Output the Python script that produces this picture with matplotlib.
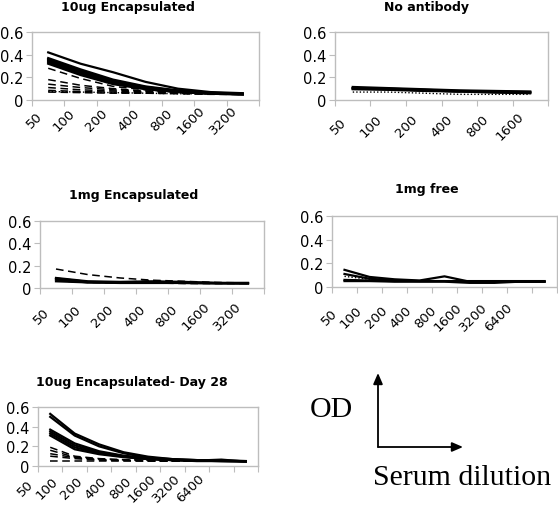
import numpy as np
import matplotlib
matplotlib.use("Agg")
import matplotlib.pyplot as plt
import matplotlib.transforms as mtransforms
from matplotlib.patches import FancyArrowPatch

nan = np.nan

# ---- data ----
cats_a = ['50', '100', '200', '400', '800', '1600', '3200']
cats_b = ['50', '100', '200', '400', '800', '1600']
cats_c = ['50', '100', '200', '400', '800', '1600', '3200', '6400', '']

enc10_solid = [
    [0.42, 0.32, 0.245, 0.16, 0.10, 0.07, 0.06],
    [0.37, 0.27, 0.18, 0.12, 0.085, 0.065, 0.055],
    [0.36, 0.26, 0.17, 0.115, 0.08, 0.06, 0.055],
    [0.35, 0.25, 0.165, 0.11, 0.08, 0.06, 0.05],
    [0.34, 0.24, 0.16, 0.105, 0.075, 0.06, 0.05],
    [0.33, 0.23, 0.15, 0.10, 0.07, 0.055, 0.05],
    [0.32, 0.22, 0.14, 0.095, 0.07, 0.055, 0.05],
]
enc10_dashed = [
    [0.28, 0.19, 0.12, 0.09, 0.07, 0.06, 0.055],
    [0.18, 0.13, 0.10, 0.08, 0.065, 0.06, 0.055],
    [0.14, 0.11, 0.09, 0.075, 0.065, 0.06, 0.055],
    [0.11, 0.09, 0.08, 0.07, 0.06, 0.055, 0.05],
    [0.085, 0.075, 0.07, 0.065, 0.06, 0.055, 0.05],
    [0.07, 0.065, 0.06, 0.06, 0.055, 0.05, 0.05],
]
enc10_dotted = [
    [0.075, 0.07, 0.065, 0.06, 0.055, 0.055, 0.05],
]

noab_solid = [
    [0.115, 0.105, 0.095, 0.085, 0.08, 0.075],
    [0.105, 0.10, 0.09, 0.08, 0.075, 0.07],
    [0.10, 0.095, 0.085, 0.075, 0.07, 0.065],
    [0.095, 0.09, 0.08, 0.075, 0.065, 0.06],
    [0.105, 0.095, 0.085, 0.075, nan, nan],
]
noab_dotted = [
    [0.07, 0.07, 0.06, 0.05, 0.05, 0.05],
]

enc1mg_solid = [
    [0.09, 0.06, 0.055, 0.06, 0.055, 0.045, 0.045],
    [0.085, 0.055, 0.05, 0.05, 0.05, 0.045, 0.045],
    [0.075, 0.05, 0.05, 0.05, 0.045, 0.045, 0.04],
    [0.06, 0.05, 0.045, 0.045, 0.045, 0.04, 0.04],
]
enc1mg_dashed = [
    [0.17, 0.12, 0.09, 0.07, 0.06, 0.05, 0.045],
    [0.08, 0.055, 0.05, 0.065, 0.05, 0.045, 0.045],
    [0.065, 0.05, 0.045, 0.045, 0.04, 0.04, 0.04],
]

free1mg_solid = [
    [0.145, 0.085, 0.065, 0.055, 0.09, 0.045, 0.045, 0.045, 0.045],
    [0.11, 0.07, 0.055, 0.05, 0.05, 0.045, 0.045, 0.045, 0.045],
    [0.06, 0.055, 0.05, 0.05, 0.05, 0.05, 0.05, 0.05, 0.05],
    [0.05, 0.05, 0.045, 0.045, 0.045, 0.035, 0.035, 0.045, 0.045],
]
free1mg_dotted = [
    [0.09, 0.065, 0.055, 0.05, 0.05, 0.05, 0.045, 0.045, 0.045],
]

day28_solid = [
    [0.53, 0.33, 0.22, 0.14, 0.095, 0.07, 0.06, 0.055, 0.05],
    [0.50, 0.31, 0.20, 0.13, 0.085, 0.07, 0.06, 0.055, 0.05],
    [0.37, 0.23, 0.15, 0.105, 0.08, 0.065, 0.055, 0.05, 0.05],
    [0.35, 0.21, 0.14, 0.10, 0.075, 0.06, 0.055, 0.05, 0.045],
    [0.33, 0.19, 0.13, 0.095, 0.07, 0.06, 0.055, 0.065, 0.045],
    [0.31, 0.17, 0.12, 0.09, 0.07, 0.06, 0.05, 0.05, 0.045],
]
day28_dashed = [
    [0.19, 0.10, 0.075, 0.065, 0.06, 0.055, 0.05, 0.05, 0.05],
    [0.16, 0.09, 0.07, 0.06, 0.055, 0.05, 0.05, 0.05, 0.05],
    [0.125, 0.085, 0.065, 0.06, 0.055, 0.05, 0.05, 0.05, 0.05],
    [0.10, 0.075, 0.06, 0.055, 0.05, 0.05, 0.05, 0.05, 0.05],
    [0.05, 0.05, 0.05, 0.05, 0.05, 0.05, 0.05, 0.05, 0.05],
]

W, H = 558, 506
fig = plt.figure(figsize=(W / 100, H / 100), dpi=100)
GRAY = '#bdbdbd'
panels = []


def px_axes(x0, y0, x1, y1):
    return fig.add_axes([x0 / W, 1 - y1 / H, (x1 - x0) / W, (y1 - y0) / H])


def panel(box, title, tpos, cats, solid, dashed=(), dotted=(), lab=(-4, 120)):
    ax = px_axes(*box)
    n = len(cats)
    x = np.arange(1, n + 1)
    for s in solid:
        ax.plot(x, s, color='black', lw=1.6, ls='-')
    for s in dashed:
        ax.plot(x, s, color='black', lw=1.1, ls=(0, (5, 3)))
    for s in dotted:
        ax.plot(x, s, color='black', lw=1.0, ls=(0, (1, 1.5)))
    ax.set_xlim(0.5, n + 0.5)
    ax.set_ylim(0, 0.6)
    ax.set_yticks([0, 0.2, 0.4, 0.6])
    ax.set_yticklabels(['0', '0.2', '0.4', '0.6'])
    ax.set_xticks(np.arange(0.5, n + 1.0, 1.0))
    ax.set_xticklabels([])
    ax.set_xticks(x, minor=True)
    ax.set_xticklabels(cats, minor=True, rotation=45, ha='center', va='center',
                       rotation_mode='anchor', fontsize=9.5)
    ax.tick_params(axis='x', which='minor', length=0, pad=8)
    ax.tick_params(axis='x', which='major', length=4, color=GRAY, direction='out')
    ax.tick_params(axis='y', length=4, color=GRAY, labelsize=10.5, pad=2)
    for sp in ax.spines.values():
        sp.set_color(GRAY)
        sp.set_linewidth(1.0)
    fig.text(tpos[0] / W, 1 - tpos[1] / H, title, ha='center', va='center',
             fontsize=9, fontweight='bold')
    panels.append((ax, lab))
    return ax


# lab = (right edge of label relative to category centre, label centre y) in px
panel((32, 33, 259, 101), '10ug Encapsulated', (128, 8), cats_a,
      enc10_solid, enc10_dashed, enc10_dotted, lab=(-3, 121))
panel((335, 33, 548, 101), 'No antibody', (426, 8), cats_b,
      noab_solid, (), noab_dotted, lab=(-4, 127))
panel((40, 222, 264, 289), '1mg Encapsulated', (134, 196), cats_a,
      enc1mg_solid, enc1mg_dashed, (), lab=(-4, 317))
panel((332, 217, 557, 288), '1mg free', (427, 189), cats_c,
      free1mg_solid, (), free1mg_dotted, lab=(-5, 318))
panel((38, 408, 258, 467), '10ug Encapsulated- Day 28', (132, 383), cats_c,
      day28_solid, day28_dashed, (), lab=(-14, 489))

# place rotated category labels the way the spreadsheet does
fig.canvas.draw()
rend = fig.canvas.get_renderer()
for ax, (dx, cy) in panels:
    for xi, t in zip(ax.get_xticks(minor=True), ax.get_xticklabels(minor=True)):
        if not t.get_text():
            continue
        bb = t.get_window_extent(rend)
        cx_px = ax.transData.transform((xi, 0))[0]
        sx = (cx_px + dx) - bb.x1
        sy = (H - cy) - (bb.y0 + bb.y1) / 2
        t.set_transform(t.get_transform() +
                        mtransforms.ScaledTranslation(sx / 100, sy / 100,
                                                      fig.dpi_scale_trans))

# axis legend arrows
ox, oy = 378 / W, 1 - 448 / H
style = '-|>,head_length=6.5,head_width=2.8'
fig.add_artist(FancyArrowPatch((ox, oy), (ox, 1 - 374 / H),
                               transform=fig.transFigure, arrowstyle=style,
                               color='black', lw=1.3, shrinkA=0, shrinkB=0))
fig.add_artist(FancyArrowPatch((ox, oy), (463 / W, oy),
                               transform=fig.transFigure, arrowstyle=style,
                               color='black', lw=1.3, shrinkA=0, shrinkB=0))
fig.text(331 / W, 1 - 410 / H, 'OD', ha='center', va='center',
         family='Liberation Serif', fontsize=21.5)
fig.text(462 / W, 1 - 478 / H, 'Serum dilution', ha='center', va='center',
         family='Liberation Serif', fontsize=21.5)

fig.savefig('out.png', dpi=100, facecolor='white')
